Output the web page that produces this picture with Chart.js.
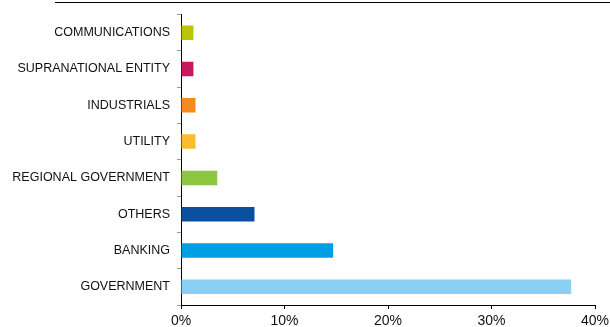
<!DOCTYPE html>
<html>
<head>
<meta charset="utf-8">
<script src="https://cdn.jsdelivr.net/npm/chart.js@4/dist/chart.umd.min.js"></script>
<style>
  html, body { margin: 0; padding: 0; background: #fff; }
  #wrap { position: relative; width: 610px; height: 327px; }
  #topline { position: absolute; left: 55px; right: 0; top: 2px; border-top: 1px solid #000; }
</style>
</head>
<body>
<div id="wrap">
  <div id="topline"></div>
  <canvas id="chart" width="610" height="327"></canvas>
</div>
<script>
// sectors, top to bottom
const sectors = ['COMMUNICATIONS', 'SUPRANATIONAL ENTITY', 'INDUSTRIALS', 'UTILITY',
    'REGIONAL GOVERNMENT', 'OTHERS', 'BANKING', 'GOVERNMENT']
const weights = [1.2, 1.2, 1.4, 1.4, 3.5, 7.1, 14.7, 37.7]
const barColors = ['#bcc500', '#c9195e', '#f7891f', '#fdbb30', '#8cc63f', '#0a4fa0', '#009fe3', '#89d0f2']
const xTicks = [0, 10, 20, 30, 40]

const ctx = document.getElementById('chart').getContext('2d')
const chart = new Chart(ctx, {
    type: 'bar',
    data: {
        labels: sectors,
        datasets: [{
            data: weights,
            backgroundColor: barColors,
            barPercentage: 0.4,
            categoryPercentage: 1
        }]
    },
    options: {
        indexAxis: 'y',
        responsive: false,
        animation: false,
        layout: { padding: { top: 12, right: 15, left: 0, bottom: 0 } },
        plugins: { legend: { display: false }, tooltip: { enabled: false } },
        scales: {
            x: {
                min: 0,
                max: 40,
                afterBuildTicks: (s) => { s.ticks = xTicks.map(v => ({ value: v })) },
                afterFit: (s) => { s.height = 22; s.paddingRight = 0 },
                border: { color: '#000', width: 1 },
                grid: { drawOnChartArea: false, tickLength: 4, color: '#000' },
                ticks: {
                    padding: 4,
                    maxRotation: 0,
                    color: '#111',
                    font: { family: 'Arial, "Liberation Sans"', size: 14 },
                    callback: (v) => v + '%'
                }
            },
            y: {
                afterFit: (s) => { s.width = 181 },
                border: { color: '#000', width: 1 },
                grid: { drawOnChartArea: false, offset: true, tickLength: 4, color: '#999' },
                ticks: {
                    padding: 7,
                    color: '#111',
                    font: { family: 'Arial, "Liberation Sans"', size: 12.5 }
                }
            }
        }
    }
})
</script>
</body>
</html>
